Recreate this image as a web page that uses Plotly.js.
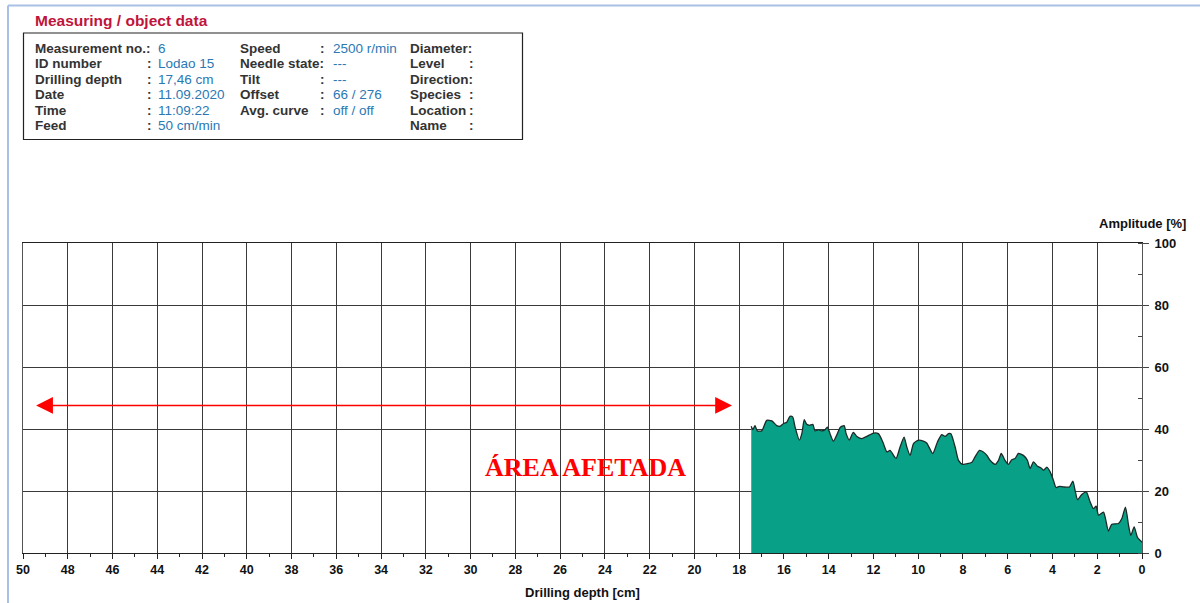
<!DOCTYPE html>
<html>
<head>
<meta charset="utf-8">
<script src="https://cdn.plot.ly/plotly-3.0.1.min.js"></script>
<style>html,body{margin:0;padding:0;background:#fff;}#chart{width:1200px;height:603px;}</style>
</head>
<body>
<div id="chart"></div>
<script>
// ---- data ----
const depthCm = [17.46,17.39,17.29,17.19,16.99,16.77,16.54,16.32,16.17,16.03,15.87,15.73,15.61,15.50,15.31,15.20,15.09,14.98,14.86,14.71,14.61,14.46,14.31,14.16,14.06,13.94,13.79,13.61,13.49,13.31,13.22,13.08,12.90,12.74,12.52,12.30,12.00,11.78,11.58,11.40,11.26,10.99,10.81,10.63,10.51,10.36,10.21,9.99,9.77,9.62,9.35,9.14,8.95,8.80,8.65,
  8.54,8.35,8.20,8.01,7.60,7.46,7.26,7.09,6.93,6.79,6.56,6.41,6.29,6.12,5.97,5.82,5.67,5.52,5.30,5.12,5.00,4.85,4.67,4.52,4.40,4.25,4.10,3.96,3.84,3.69,3.51,3.24,3.09,2.99,2.88,2.69,2.49,2.32,2.17,2.05,1.94,1.72,1.50,1.35,1.05,0.90,0.74,0.60,0.50,0.35,0.20,0.00];
const amplitudePct = [40.9,39.8,41.1,39.4,39.4,42.8,42.6,41.1,40.9,41.7,42.2,44.1,43.9,40.6,36.4,38.5,43.0,41.5,41.2,41.5,39.4,39.8,39.4,39.8,40.6,38.5,36.1,38.5,40.5,41.1,38.5,36.4,38.9,37.6,36.9,37.6,38.7,38.5,35.8,32.6,33.1,30.5,34.2,37.4,34.2,31.5,35.3,36.4,36.1,35.5,32.1,35.8,38.2,37.6,38.5,
  38.5,34.2,29.9,28.6,29.3,31.0,33.1,32.6,31.5,29.9,28.6,29.9,32.1,29.9,28.6,30.1,30.5,32.1,31.5,29.9,27.2,29.4,28.0,27.5,26.7,27.7,26.1,23.5,21.1,21.5,21.3,21.3,23.2,20.2,17.2,18.9,19.7,16.5,14.3,15.1,12.2,13.2,7.1,9.3,9.5,11.1,14.8,8.9,5.7,8.4,5.0,3.5];

const headerTitle = "Measuring / object data";
const col1Labels = ["Measurement no.:", "ID number", "Drilling depth", "Date", "Time", "Feed"];
const col1Values = ["6", "Lodao 15", "17,46 cm", "11.09.2020", "11:09:22", "50 cm/min"];
const col2Labels = ["Speed", "Needle state:", "Tilt", "Offset", "Avg. curve"];
const col2Values = ["2500 r/min", "---", "---", "66 / 276", "off / off"];
const col3Labels = ["Diameter:", "Level", "Direction:", "Species", "Location", "Name"];
const affectedLabel = "ÁREA AFETADA";
const affectedFrom = 49.48, affectedTo = 18.32, affectedY = 47.6;
const affectedTextX = 24.85, affectedTextY = 27.6;

// ---- layout geometry ----
const W = 1200, H = 603, ML = 23, MR = 58, MT = 243, MB = 50;
const PW = W - ML - MR, PH = H - MT - MB;
const px = v => (v - ML) / PW;
const py = v => (H - MB - v) / PH;

const FONT = "Liberation Sans, Arial, sans-serif";
const LABEL_C = "#333333", VALUE_C = "#2a78b4";
const rowsY = [48.5, 63.5, 79, 94.5, 110, 125.5];
const BOLD = {family: FONT, size: 13.5, color: LABEL_C, weight: "bold"};

const ann = [];
function txt(t, x, y, opts) {
  ann.push(Object.assign({
    text: t, xref: "paper", yref: "paper", x: px(x - 2), y: py(y),
    xanchor: "left", yanchor: "middle", showarrow: false, font: BOLD
  }, opts || {}));
}
txt(headerTitle, 35, 20, {font: {family: FONT, size: 15.5, color: "#c0143c", weight: "bold"}});
col1Labels.forEach((l, i) => {
  txt(l, 35, rowsY[i]);
  if (i > 0) txt(":", 147, rowsY[i]);
  txt(col1Values[i], 158, rowsY[i], {font: {family: FONT, size: 13.5, color: VALUE_C}});
});
col2Labels.forEach((l, i) => {
  txt(l, 240, rowsY[i]);
  if (l.indexOf(":") < 0) txt(":", 320, rowsY[i]);
  txt(col2Values[i], 333, rowsY[i], {font: {family: FONT, size: 13.5, color: VALUE_C}});
});
col3Labels.forEach((l, i) => {
  txt(l, 410, rowsY[i]);
  if (l.indexOf(":") < 0) txt(":", 469, rowsY[i]);
});
ann.push({text: "Amplitude [%]", xref: "paper", yref: "paper", x: px(1188), y: py(223), xanchor: "right", yanchor: "middle",
  showarrow: false, font: {family: FONT, size: 13, color: "#111", weight: "bold"}});

ann.push({
  x: affectedTo, y: affectedY, ax: affectedFrom, ay: affectedY, xref: "x", yref: "y", axref: "x", ayref: "y",
  text: "", showarrow: true, arrowside: "end+start", arrowhead: 2, startarrowhead: 2,
  arrowsize: 2.1, startarrowsize: 2.1, arrowwidth: 1.6, arrowcolor: "#ff0000", standoff: 0, startstandoff: 0
});
ann.push({
  x: affectedTextX, y: affectedTextY, xref: "x", yref: "y", text: affectedLabel, showarrow: false,
  xanchor: "center", yanchor: "middle",
  font: {family: "Liberation Serif, Times New Roman, serif", size: 26, color: "#ff0000", weight: "bold"}
});

const shapes = [
  {type: "line", xref: "paper", yref: "paper", x0: px(8), x1: px(8), y0: py(5.5), y1: py(603), line: {color: "#a9c0e6", width: 2}},
  {type: "line", xref: "paper", yref: "paper", x0: px(8), x1: px(1200), y0: py(5.5), y1: py(5.5), line: {color: "#a9c0e6", width: 2}},
  {type: "rect", xref: "paper", yref: "paper", x0: px(23.5), x1: px(522.5), y0: py(33), y1: py(139.5), line: {color: "#222", width: 1.2}}
];

const trace = {
  x: depthCm, y: amplitudePct, type: "scatter", mode: "lines",
  fill: "tozeroy", fillcolor: "#08a087",
  line: {color: "#1b2a26", width: 1.3, shape: "spline", smoothing: 0.6},
  hoverinfo: "skip"
};

const layout = {
  width: W, height: H,
  margin: {l: ML, r: MR, t: MT, b: MB, pad: 0},
  paper_bgcolor: "#ffffff", plot_bgcolor: "#ffffff",
  showlegend: false,
  xaxis: {
    range: [50, 0], autorange: false, tick0: 0, dtick: 2,
    showgrid: true, gridcolor: "#3a3a3a", gridwidth: 1, zeroline: false,
    showline: true, linecolor: "#222", linewidth: 1, mirror: true,
    ticks: "outside", ticklen: 5, tickcolor: "#222", tickwidth: 1,
    minor: {dtick: 1, ticks: "outside", ticklen: 3, tickcolor: "#222", showgrid: false},
    tickfont: {family: FONT, size: 12.5, color: "#111", weight: "bold"},
    title: {text: "Drilling depth [cm]", standoff: 11, font: {family: FONT, size: 13, color: "#111", weight: "bold"}}
  },
  yaxis: {
    range: [0, 100], autorange: false, dtick: 20, side: "right",
    showgrid: true, gridcolor: "#3a3a3a", gridwidth: 1, zeroline: false,
    showline: true, linecolor: "#555", linewidth: 1, mirror: true,
    ticks: "outside", ticklen: 6, tickcolor: "#444", tickwidth: 1,
    minor: {dtick: 10, ticks: "inside", ticklen: 4, tickcolor: "#444", showgrid: false},
    tickfont: {family: FONT, size: 13, color: "#111", weight: "bold"},
    ticklabelstandoff: 3
  },
  annotations: ann,
  shapes: shapes
};

Plotly.newPlot("chart", [trace], layout, {staticPlot: true, displayModeBar: false});
</script>
</body>
</html>
